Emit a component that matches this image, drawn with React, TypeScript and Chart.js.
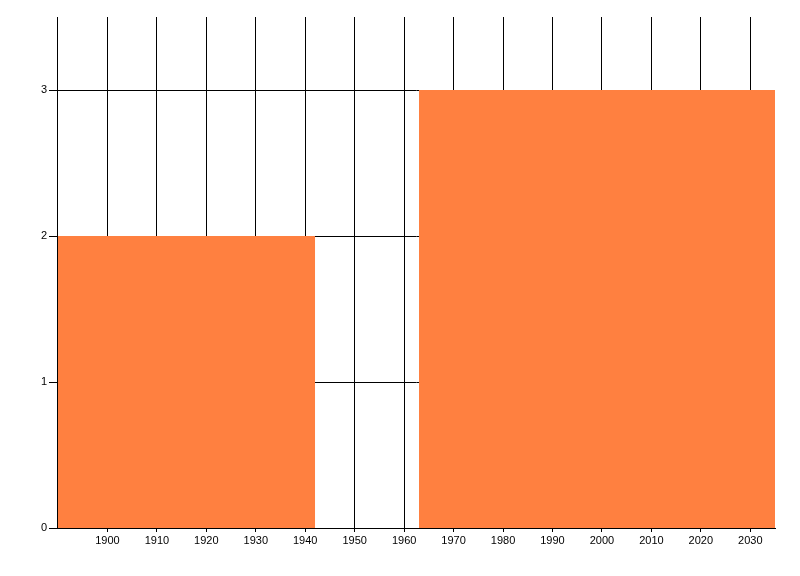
import React, { useEffect, useRef } from 'react';
import { Chart, registerables } from 'chart.js';

Chart.register(...registerables);

// Axis ranges and ticks
const xMin = 1890;
const xMax = 2035;
const xTicks = [1900, 1910, 1920, 1930, 1940, 1950, 1960, 1970, 1980, 1990, 2000, 2010, 2020, 2030];
const yMin = 0;
const yMax = 3.5;
const yTicks = [0, 1, 2, 3];

// Bars: start year, end year, height
const barStarts = [1890, 1963];
const barEnds = [1942, 2035];
const barHeights = [2, 3];

const barColor = '#FF8040';

const leftAxisLine = {
  id: 'leftAxisLine',
  afterDraw(chart: any) {
    const { ctx, chartArea } = chart;
    ctx.save();
    ctx.strokeStyle = '#000';
    ctx.lineWidth = 1;
    ctx.beginPath();
    ctx.moveTo(chartArea.left - 0.5, chartArea.top);
    ctx.lineTo(chartArea.left - 0.5, chartArea.bottom + 1);
    ctx.stroke();
    ctx.restore();
  },
};

export default function App() {
  const ref = useRef<HTMLCanvasElement>(null);

  useEffect(() => {
    if (!ref.current) return;
    const datasets = barStarts.map((s, i) => ({
      data: [
        { x: s, y: 0 },
        { x: s, y: barHeights[i] },
        { x: barEnds[i], y: barHeights[i] },
        { x: barEnds[i], y: 0 },
      ],
      fill: 'origin',
      backgroundColor: barColor,
      borderColor: 'transparent',
      borderWidth: 0,
      pointRadius: 0,
      pointHoverRadius: 0,
      tension: 0,
    }));

    const font = { family: '"Liberation Sans", Arial, sans-serif', size: 11 };

    const chart = new Chart(ref.current, {
      type: 'line',
      data: { datasets: datasets as any },
      options: {
        animation: false,
        responsive: false,
        events: [],
        layout: { padding: { top: 17, right: 25, left: 0, bottom: 0 } },
        plugins: { legend: { display: false }, tooltip: { enabled: false } },
        scales: {
          x: {
            type: 'linear',
            min: xMin,
            max: xMax,
            afterBuildTicks: (scale: any) => {
              scale.ticks = xTicks.map((v) => ({ value: v }));
            },
            afterFit: (scale: any) => {
              scale.height = 48;
            },
            grid: { color: '#000', lineWidth: 1, tickLength: 4, drawTicks: true },
            border: { display: true, color: '#000', width: 1 },
            ticks: {
              autoSkip: false,
              maxRotation: 0,
              padding: 2,
              color: '#000',
              font,
              callback: (v: any) => String(v),
            },
          },
          y: {
            type: 'linear',
            min: yMin,
            max: yMax,
            afterBuildTicks: (scale: any) => {
              scale.ticks = yTicks.map((v) => ({ value: v }));
            },
            afterFit: (scale: any) => {
              scale.width = 58;
            },
            grid: { color: '#000', lineWidth: 1, tickLength: 9, drawTicks: true },
            border: { display: false },
            ticks: {
              padding: 2,
              color: '#000',
              font,
              callback: (v: any) => String(v),
            },
          },
        },
      },
      plugins: [leftAxisLine],
    });
    return () => chart.destroy();
  }, []);

  return (
    <div style={{ position: 'absolute', left: 0, top: 0, width: 800, height: 576 }}>
      <canvas ref={ref} width={800} height={576} />
    </div>
  );
}
